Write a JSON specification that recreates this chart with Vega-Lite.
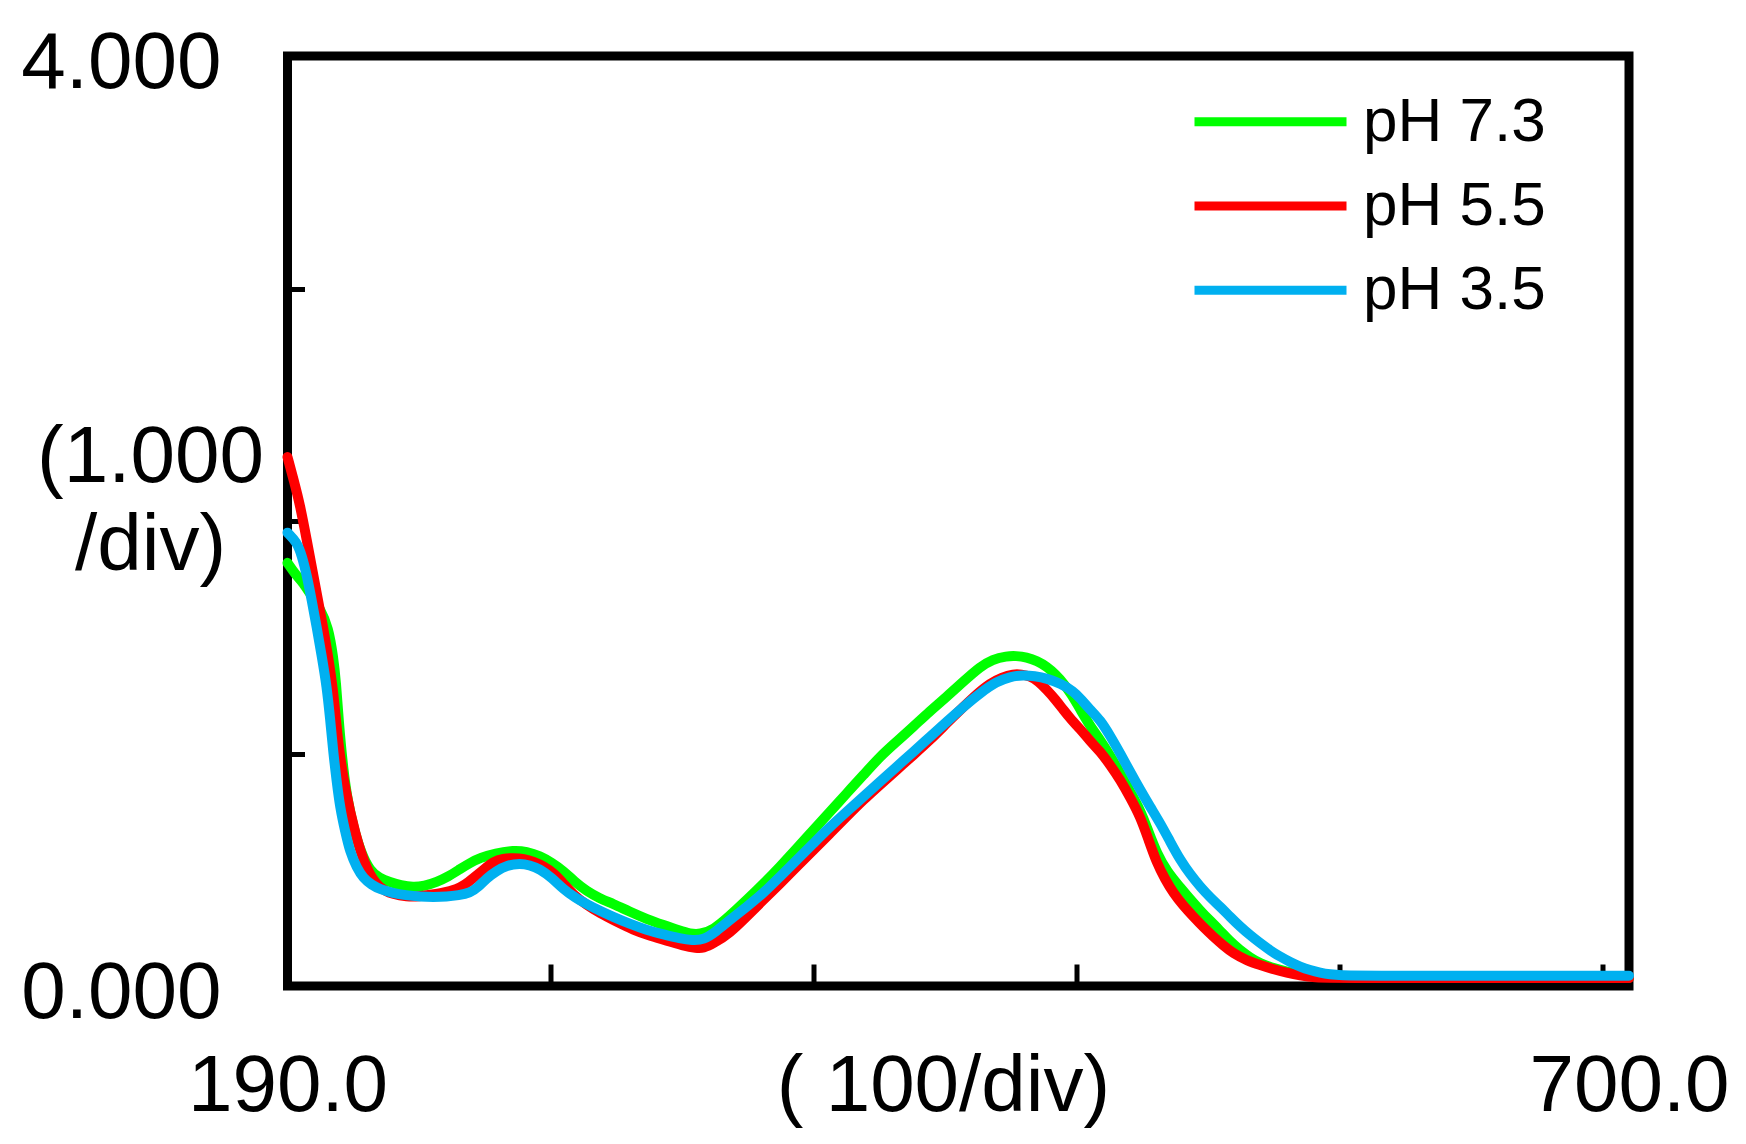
{
  "$schema": "https://vega.github.io/schema/vega-lite/v6.json",
  "width": 1341.5,
  "height": 930,
  "autosize": {"type": "none"},
  "padding": {"left": 287.5, "top": 56, "right": 117, "bottom": 158},
  "background": "white",
  "config": {
    "view": {"stroke": "black", "strokeWidth": 9},
    "font": "Liberation Sans",
    "axis": {
      "domain": false, "grid": false,
      "tickColor": "black", "tickWidth": 5,
      "labelColor": "black", "titleColor": "black",
      "labelFontSize": 80, "titleFontSize": 80, "titleFontWeight": "normal",
      "labelOverlap": false, "labelFlush": false, "labelBound": false,
      "labelLimit": 0, "titleLimit": 0
    }
  },
  "data": {
    "values": [
      {"s": "pH 7.3", "x": 190, "y": 1.82},
      {"s": "pH 7.3", "x": 193, "y": 1.77},
      {"s": "pH 7.3", "x": 196, "y": 1.735},
      {"s": "pH 7.3", "x": 199, "y": 1.68},
      {"s": "pH 7.3", "x": 202.5, "y": 1.62},
      {"s": "pH 7.3", "x": 205.5, "y": 1.544},
      {"s": "pH 7.3", "x": 207.4, "y": 1.417},
      {"s": "pH 7.3", "x": 208.5, "y": 1.3},
      {"s": "pH 7.3", "x": 209.3, "y": 1.163},
      {"s": "pH 7.3", "x": 211.2, "y": 0.925},
      {"s": "pH 7.3", "x": 213, "y": 0.79},
      {"s": "pH 7.3", "x": 215, "y": 0.686},
      {"s": "pH 7.3", "x": 218, "y": 0.57},
      {"s": "pH 7.3", "x": 221.4, "y": 0.495},
      {"s": "pH 7.3", "x": 225, "y": 0.463},
      {"s": "pH 7.3", "x": 229, "y": 0.447},
      {"s": "pH 7.3", "x": 233, "y": 0.433},
      {"s": "pH 7.3", "x": 237.8, "y": 0.424},
      {"s": "pH 7.3", "x": 242, "y": 0.43},
      {"s": "pH 7.3", "x": 246.7, "y": 0.447},
      {"s": "pH 7.3", "x": 251, "y": 0.47},
      {"s": "pH 7.3", "x": 255.6, "y": 0.503},
      {"s": "pH 7.3", "x": 259.5, "y": 0.53},
      {"s": "pH 7.3", "x": 263.2, "y": 0.551},
      {"s": "pH 7.3", "x": 269, "y": 0.571},
      {"s": "pH 7.3", "x": 275.9, "y": 0.583},
      {"s": "pH 7.3", "x": 281, "y": 0.578},
      {"s": "pH 7.3", "x": 286, "y": 0.559},
      {"s": "pH 7.3", "x": 290.5, "y": 0.53},
      {"s": "pH 7.3", "x": 294.9, "y": 0.495},
      {"s": "pH 7.3", "x": 299, "y": 0.45},
      {"s": "pH 7.3", "x": 303.7, "y": 0.408},
      {"s": "pH 7.3", "x": 308.5, "y": 0.378},
      {"s": "pH 7.3", "x": 313.9, "y": 0.353},
      {"s": "pH 7.3", "x": 320, "y": 0.32},
      {"s": "pH 7.3", "x": 326.5, "y": 0.288},
      {"s": "pH 7.3", "x": 333, "y": 0.262},
      {"s": "pH 7.3", "x": 339.2, "y": 0.238},
      {"s": "pH 7.3", "x": 343, "y": 0.225},
      {"s": "pH 7.3", "x": 346.8, "y": 0.222},
      {"s": "pH 7.3", "x": 351.9, "y": 0.241},
      {"s": "pH 7.3", "x": 358, "y": 0.3},
      {"s": "pH 7.3", "x": 364.6, "y": 0.37},
      {"s": "pH 7.3", "x": 371, "y": 0.44},
      {"s": "pH 7.3", "x": 377.2, "y": 0.513},
      {"s": "pH 7.3", "x": 383.5, "y": 0.59},
      {"s": "pH 7.3", "x": 389.9, "y": 0.671},
      {"s": "pH 7.3", "x": 396.3, "y": 0.75},
      {"s": "pH 7.3", "x": 402.6, "y": 0.829},
      {"s": "pH 7.3", "x": 409, "y": 0.908},
      {"s": "pH 7.3", "x": 415.2, "y": 0.986},
      {"s": "pH 7.3", "x": 421.5, "y": 1.05},
      {"s": "pH 7.3", "x": 427.9, "y": 1.115},
      {"s": "pH 7.3", "x": 434, "y": 1.18},
      {"s": "pH 7.3", "x": 440.6, "y": 1.244},
      {"s": "pH 7.3", "x": 447, "y": 1.31},
      {"s": "pH 7.3", "x": 453.3, "y": 1.373},
      {"s": "pH 7.3", "x": 458, "y": 1.405},
      {"s": "pH 7.3", "x": 463.4, "y": 1.419},
      {"s": "pH 7.3", "x": 467, "y": 1.42},
      {"s": "pH 7.3", "x": 471, "y": 1.414},
      {"s": "pH 7.3", "x": 475, "y": 1.398},
      {"s": "pH 7.3", "x": 478.7, "y": 1.373},
      {"s": "pH 7.3", "x": 482, "y": 1.34},
      {"s": "pH 7.3", "x": 485, "y": 1.302},
      {"s": "pH 7.3", "x": 488, "y": 1.255},
      {"s": "pH 7.3", "x": 491.4, "y": 1.19},
      {"s": "pH 7.3", "x": 495, "y": 1.12},
      {"s": "pH 7.3", "x": 499, "y": 1.058},
      {"s": "pH 7.3", "x": 502.8, "y": 0.99},
      {"s": "pH 7.3", "x": 506.6, "y": 0.915},
      {"s": "pH 7.3", "x": 510.4, "y": 0.835},
      {"s": "pH 7.3", "x": 514.2, "y": 0.757},
      {"s": "pH 7.3", "x": 517.3, "y": 0.665},
      {"s": "pH 7.3", "x": 520.5, "y": 0.571},
      {"s": "pH 7.3", "x": 524.5, "y": 0.49},
      {"s": "pH 7.3", "x": 529.1, "y": 0.428},
      {"s": "pH 7.3", "x": 533, "y": 0.375},
      {"s": "pH 7.3", "x": 536.8, "y": 0.327},
      {"s": "pH 7.3", "x": 540.5, "y": 0.283},
      {"s": "pH 7.3", "x": 544.3, "y": 0.241},
      {"s": "pH 7.3", "x": 548, "y": 0.195},
      {"s": "pH 7.3", "x": 552, "y": 0.155},
      {"s": "pH 7.3", "x": 556, "y": 0.122},
      {"s": "pH 7.3", "x": 559.8, "y": 0.097},
      {"s": "pH 7.3", "x": 565, "y": 0.076},
      {"s": "pH 7.3", "x": 569.9, "y": 0.061},
      {"s": "pH 7.3", "x": 575, "y": 0.05},
      {"s": "pH 7.3", "x": 580, "y": 0.043},
      {"s": "pH 7.3", "x": 590, "y": 0.038},
      {"s": "pH 7.3", "x": 600, "y": 0.036},
      {"s": "pH 7.3", "x": 700, "y": 0.036},

      {"s": "pH 5.5", "x": 190, "y": 2.275},
      {"s": "pH 5.5", "x": 192.5, "y": 2.17},
      {"s": "pH 5.5", "x": 194.75, "y": 2.07},
      {"s": "pH 5.5", "x": 197.3, "y": 1.92},
      {"s": "pH 5.5", "x": 199.8, "y": 1.767},
      {"s": "pH 5.5", "x": 203.6, "y": 1.544},
      {"s": "pH 5.5", "x": 206.8, "y": 1.322},
      {"s": "pH 5.5", "x": 208, "y": 1.2},
      {"s": "pH 5.5", "x": 209.3, "y": 1.036},
      {"s": "pH 5.5", "x": 211.9, "y": 0.845},
      {"s": "pH 5.5", "x": 215.7, "y": 0.654},
      {"s": "pH 5.5", "x": 220.1, "y": 0.495},
      {"s": "pH 5.5", "x": 225.2, "y": 0.416},
      {"s": "pH 5.5", "x": 230, "y": 0.395},
      {"s": "pH 5.5", "x": 235.3, "y": 0.384},
      {"s": "pH 5.5", "x": 240, "y": 0.385},
      {"s": "pH 5.5", "x": 244.2, "y": 0.392},
      {"s": "pH 5.5", "x": 249, "y": 0.4},
      {"s": "pH 5.5", "x": 254.3, "y": 0.416},
      {"s": "pH 5.5", "x": 257.5, "y": 0.435},
      {"s": "pH 5.5", "x": 260.6, "y": 0.464},
      {"s": "pH 5.5", "x": 264.5, "y": 0.5},
      {"s": "pH 5.5", "x": 268.3, "y": 0.535},
      {"s": "pH 5.5", "x": 272, "y": 0.548},
      {"s": "pH 5.5", "x": 275.9, "y": 0.551},
      {"s": "pH 5.5", "x": 280, "y": 0.547},
      {"s": "pH 5.5", "x": 283.5, "y": 0.535},
      {"s": "pH 5.5", "x": 287.5, "y": 0.515},
      {"s": "pH 5.5", "x": 291.1, "y": 0.487},
      {"s": "pH 5.5", "x": 295, "y": 0.44},
      {"s": "pH 5.5", "x": 298.7, "y": 0.392},
      {"s": "pH 5.5", "x": 303.5, "y": 0.35},
      {"s": "pH 5.5", "x": 308.8, "y": 0.313},
      {"s": "pH 5.5", "x": 315, "y": 0.277},
      {"s": "pH 5.5", "x": 321.5, "y": 0.241},
      {"s": "pH 5.5", "x": 328, "y": 0.215},
      {"s": "pH 5.5", "x": 334.2, "y": 0.194},
      {"s": "pH 5.5", "x": 340, "y": 0.175},
      {"s": "pH 5.5", "x": 345.6, "y": 0.162},
      {"s": "pH 5.5", "x": 348, "y": 0.162},
      {"s": "pH 5.5", "x": 352, "y": 0.183},
      {"s": "pH 5.5", "x": 358.2, "y": 0.228},
      {"s": "pH 5.5", "x": 364.5, "y": 0.298},
      {"s": "pH 5.5", "x": 370.9, "y": 0.37},
      {"s": "pH 5.5", "x": 377.2, "y": 0.44},
      {"s": "pH 5.5", "x": 383.6, "y": 0.513},
      {"s": "pH 5.5", "x": 390, "y": 0.585},
      {"s": "pH 5.5", "x": 396.3, "y": 0.657},
      {"s": "pH 5.5", "x": 402.6, "y": 0.729},
      {"s": "pH 5.5", "x": 408.9, "y": 0.8},
      {"s": "pH 5.5", "x": 415.2, "y": 0.865},
      {"s": "pH 5.5", "x": 421.6, "y": 0.929},
      {"s": "pH 5.5", "x": 428, "y": 0.994},
      {"s": "pH 5.5", "x": 434.3, "y": 1.058},
      {"s": "pH 5.5", "x": 440.6, "y": 1.13},
      {"s": "pH 5.5", "x": 447, "y": 1.201},
      {"s": "pH 5.5", "x": 452, "y": 1.255},
      {"s": "pH 5.5", "x": 457.1, "y": 1.302},
      {"s": "pH 5.5", "x": 461.5, "y": 1.327},
      {"s": "pH 5.5", "x": 466, "y": 1.342},
      {"s": "pH 5.5", "x": 469, "y": 1.34},
      {"s": "pH 5.5", "x": 472.3, "y": 1.333},
      {"s": "pH 5.5", "x": 475.5, "y": 1.31},
      {"s": "pH 5.5", "x": 478.7, "y": 1.273},
      {"s": "pH 5.5", "x": 482, "y": 1.232},
      {"s": "pH 5.5", "x": 485, "y": 1.187},
      {"s": "pH 5.5", "x": 488, "y": 1.145},
      {"s": "pH 5.5", "x": 491.4, "y": 1.105},
      {"s": "pH 5.5", "x": 495, "y": 1.055},
      {"s": "pH 5.5", "x": 499, "y": 1.008},
      {"s": "pH 5.5", "x": 502.8, "y": 0.95},
      {"s": "pH 5.5", "x": 506.6, "y": 0.886},
      {"s": "pH 5.5", "x": 510.4, "y": 0.81},
      {"s": "pH 5.5", "x": 514.2, "y": 0.728},
      {"s": "pH 5.5", "x": 517.3, "y": 0.63},
      {"s": "pH 5.5", "x": 520.5, "y": 0.528},
      {"s": "pH 5.5", "x": 523.6, "y": 0.46},
      {"s": "pH 5.5", "x": 526.8, "y": 0.399},
      {"s": "pH 5.5", "x": 530.6, "y": 0.345},
      {"s": "pH 5.5", "x": 534.4, "y": 0.298},
      {"s": "pH 5.5", "x": 538.2, "y": 0.253},
      {"s": "pH 5.5", "x": 542, "y": 0.212},
      {"s": "pH 5.5", "x": 545.8, "y": 0.174},
      {"s": "pH 5.5", "x": 549.6, "y": 0.14},
      {"s": "pH 5.5", "x": 554.7, "y": 0.11},
      {"s": "pH 5.5", "x": 559.8, "y": 0.09},
      {"s": "pH 5.5", "x": 565, "y": 0.071},
      {"s": "pH 5.5", "x": 569.9, "y": 0.057},
      {"s": "pH 5.5", "x": 575, "y": 0.045},
      {"s": "pH 5.5", "x": 580, "y": 0.037},
      {"s": "pH 5.5", "x": 590, "y": 0.034},
      {"s": "pH 5.5", "x": 700, "y": 0.034},

      {"s": "pH 3.5", "x": 190, "y": 1.95},
      {"s": "pH 3.5", "x": 193.5, "y": 1.91},
      {"s": "pH 3.5", "x": 195.5, "y": 1.85},
      {"s": "pH 3.5", "x": 197.3, "y": 1.768},
      {"s": "pH 3.5", "x": 199.2, "y": 1.66},
      {"s": "pH 3.5", "x": 201.1, "y": 1.544},
      {"s": "pH 3.5", "x": 203, "y": 1.42},
      {"s": "pH 3.5", "x": 204.9, "y": 1.29},
      {"s": "pH 3.5", "x": 206.2, "y": 1.15},
      {"s": "pH 3.5", "x": 207.4, "y": 1.004},
      {"s": "pH 3.5", "x": 208.7, "y": 0.88},
      {"s": "pH 3.5", "x": 210, "y": 0.766},
      {"s": "pH 3.5", "x": 211.9, "y": 0.665},
      {"s": "pH 3.5", "x": 213.8, "y": 0.575},
      {"s": "pH 3.5", "x": 216.3, "y": 0.51},
      {"s": "pH 3.5", "x": 218.8, "y": 0.464},
      {"s": "pH 3.5", "x": 222, "y": 0.435},
      {"s": "pH 3.5", "x": 225.2, "y": 0.416},
      {"s": "pH 3.5", "x": 230, "y": 0.4},
      {"s": "pH 3.5", "x": 235, "y": 0.39},
      {"s": "pH 3.5", "x": 240.4, "y": 0.384},
      {"s": "pH 3.5", "x": 245.5, "y": 0.383},
      {"s": "pH 3.5", "x": 250.5, "y": 0.384},
      {"s": "pH 3.5", "x": 255, "y": 0.39},
      {"s": "pH 3.5", "x": 259.4, "y": 0.4},
      {"s": "pH 3.5", "x": 262.5, "y": 0.425},
      {"s": "pH 3.5", "x": 265.7, "y": 0.464},
      {"s": "pH 3.5", "x": 269.5, "y": 0.495},
      {"s": "pH 3.5", "x": 273.3, "y": 0.519},
      {"s": "pH 3.5", "x": 278.4, "y": 0.527},
      {"s": "pH 3.5", "x": 282, "y": 0.52},
      {"s": "pH 3.5", "x": 286, "y": 0.503},
      {"s": "pH 3.5", "x": 290.5, "y": 0.465},
      {"s": "pH 3.5", "x": 294.9, "y": 0.416},
      {"s": "pH 3.5", "x": 299.3, "y": 0.38},
      {"s": "pH 3.5", "x": 303.7, "y": 0.353},
      {"s": "pH 3.5", "x": 308.8, "y": 0.323},
      {"s": "pH 3.5", "x": 313.9, "y": 0.297},
      {"s": "pH 3.5", "x": 320, "y": 0.268},
      {"s": "pH 3.5", "x": 326.5, "y": 0.241},
      {"s": "pH 3.5", "x": 333, "y": 0.222},
      {"s": "pH 3.5", "x": 339.2, "y": 0.205},
      {"s": "pH 3.5", "x": 344, "y": 0.196},
      {"s": "pH 3.5", "x": 348.1, "y": 0.198},
      {"s": "pH 3.5", "x": 353, "y": 0.235},
      {"s": "pH 3.5", "x": 358.2, "y": 0.284},
      {"s": "pH 3.5", "x": 364.5, "y": 0.34},
      {"s": "pH 3.5", "x": 370.9, "y": 0.399},
      {"s": "pH 3.5", "x": 377.2, "y": 0.47},
      {"s": "pH 3.5", "x": 383.6, "y": 0.542},
      {"s": "pH 3.5", "x": 390, "y": 0.614},
      {"s": "pH 3.5", "x": 396.3, "y": 0.685},
      {"s": "pH 3.5", "x": 402.6, "y": 0.75},
      {"s": "pH 3.5", "x": 408.9, "y": 0.814},
      {"s": "pH 3.5", "x": 415.2, "y": 0.879},
      {"s": "pH 3.5", "x": 421.6, "y": 0.943},
      {"s": "pH 3.5", "x": 428, "y": 1.008},
      {"s": "pH 3.5", "x": 434.3, "y": 1.072},
      {"s": "pH 3.5", "x": 440.6, "y": 1.137},
      {"s": "pH 3.5", "x": 447, "y": 1.201},
      {"s": "pH 3.5", "x": 453.3, "y": 1.26},
      {"s": "pH 3.5", "x": 459.6, "y": 1.309},
      {"s": "pH 3.5", "x": 464.5, "y": 1.33},
      {"s": "pH 3.5", "x": 469.8, "y": 1.338},
      {"s": "pH 3.5", "x": 474, "y": 1.333},
      {"s": "pH 3.5", "x": 478.7, "y": 1.323},
      {"s": "pH 3.5", "x": 484, "y": 1.3},
      {"s": "pH 3.5", "x": 488.8, "y": 1.268},
      {"s": "pH 3.5", "x": 491.4, "y": 1.237},
      {"s": "pH 3.5", "x": 495, "y": 1.19},
      {"s": "pH 3.5", "x": 499, "y": 1.144},
      {"s": "pH 3.5", "x": 502.8, "y": 1.075},
      {"s": "pH 3.5", "x": 506.6, "y": 1.0},
      {"s": "pH 3.5", "x": 510.4, "y": 0.92},
      {"s": "pH 3.5", "x": 514.2, "y": 0.843},
      {"s": "pH 3.5", "x": 518, "y": 0.77},
      {"s": "pH 3.5", "x": 521.8, "y": 0.7},
      {"s": "pH 3.5", "x": 525.6, "y": 0.62},
      {"s": "pH 3.5", "x": 529.4, "y": 0.542},
      {"s": "pH 3.5", "x": 533.2, "y": 0.48},
      {"s": "pH 3.5", "x": 537, "y": 0.427},
      {"s": "pH 3.5", "x": 540.8, "y": 0.381},
      {"s": "pH 3.5", "x": 544.6, "y": 0.341},
      {"s": "pH 3.5", "x": 548.4, "y": 0.297},
      {"s": "pH 3.5", "x": 552.2, "y": 0.255},
      {"s": "pH 3.5", "x": 556, "y": 0.218},
      {"s": "pH 3.5", "x": 559.8, "y": 0.184},
      {"s": "pH 3.5", "x": 563.6, "y": 0.153},
      {"s": "pH 3.5", "x": 567.4, "y": 0.126},
      {"s": "pH 3.5", "x": 571.2, "y": 0.103},
      {"s": "pH 3.5", "x": 575, "y": 0.083},
      {"s": "pH 3.5", "x": 578.8, "y": 0.068},
      {"s": "pH 3.5", "x": 582.6, "y": 0.057},
      {"s": "pH 3.5", "x": 586.4, "y": 0.05},
      {"s": "pH 3.5", "x": 590.2, "y": 0.046},
      {"s": "pH 3.5", "x": 600, "y": 0.044},
      {"s": "pH 3.5", "x": 700, "y": 0.044}
    ]
  },
  "mark": {"type": "line", "strokeWidth": 10, "interpolate": "basis", "strokeCap": "round", "strokeJoin": "round"},
  "encoding": {
    "x": {
      "field": "x", "type": "quantitative",
      "scale": {"domain": [190, 700], "nice": false, "zero": false},
      "axis": {
        "values": [190, 290, 390, 490, 590, 690, 700],
        "labelExpr": "datum.value == 190 ? '190.0' : datum.value == 700 ? '700.0' : ''",
        "tickSize": -22,
        "labelPadding": 146,
        "labelBaseline": "alphabetic",
        "labelAlign": "center",
        "labelAngle": 0,
        "title": "( 100/div)",
        "titleX": 655.5,
        "titleY": 124,
        "titleAlign": "center",
        "titleBaseline": "alphabetic"
      }
    },
    "y": {
      "field": "y", "type": "quantitative",
      "scale": {"domain": [0, 4], "nice": false, "zero": false},
      "axis": {
        "values": [0, 1, 2, 3, 4],
        "labelExpr": "datum.value == 0 ? '0.000' : datum.value == 4 ? '4.000' : ''",
        "tickSize": -17,
        "labelPadding": 83.5,
        "labelOffset": 7,
        "labelBaseline": "middle",
        "title": ["(1.000", "/div)"],
        "titleAngle": 0,
        "titleX": -137.5,
        "titleY": 425.7,
        "titleAlign": "center",
        "titleBaseline": "alphabetic",
        "titleLineHeight": 88
      }
    },
    "color": {
      "field": "s", "type": "nominal",
      "scale": {"domain": ["pH 7.3", "pH 5.5", "pH 3.5"], "range": ["#00FF00", "#FF0000", "#00B0F0"]},
      "legend": {
        "title": null,
        "orient": "none",
        "legendX": 902.5,
        "legendY": 23.7,
        "padding": 0,
        "symbolType": "stroke",
        "symbolSize": 23104,
        "symbolStrokeWidth": 9,
        "symbolOffset": 0,
        "labelFontSize": 62,
        "labelColor": "black",
        "labelOffset": 12,
        "labelLimit": 400,
        "clipHeight": 84,
        "rowPadding": 0.3
      }
    }
  }
}
